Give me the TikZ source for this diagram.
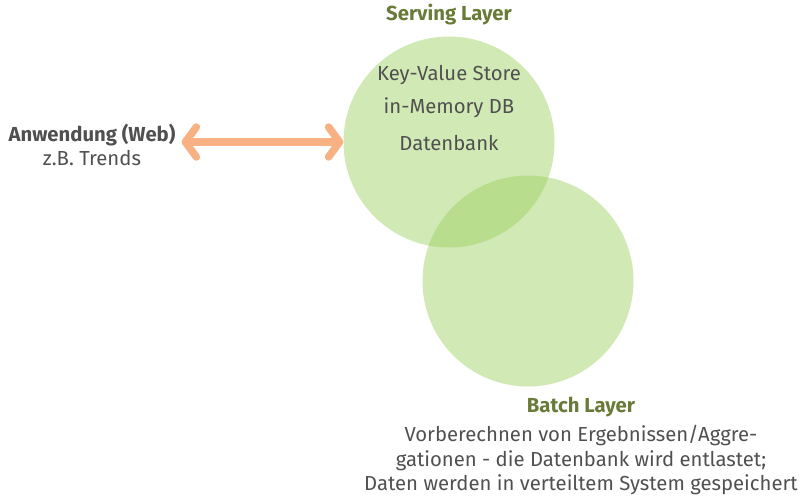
\documentclass[tikz,border=0pt]{standalone}
\usepackage{fontspec}
\setmainfont{Fira Sans}
\usetikzlibrary{arrows.meta}
\definecolor{layergreen}{RGB}{154,206,90}
\definecolor{titlegreen}{RGB}{106,122,56}
\definecolor{textgray}{RGB}{80,80,80}
\definecolor{arroworange}{RGB}{247,177,130}
\begin{document}
\begin{tikzpicture}[x=1pt, y=-1pt]
\tikzstyle{layer} = [circle, fill=layergreen, fill opacity=0.45, minimum size=211pt, inner sep=0pt]
\tikzstyle{title} = [font=\fontsize{20.3}{24}\selectfont\bfseries, text=titlegreen, inner sep=1pt]
\tikzstyle{desc} = [font=\fontsize{20.3}{24.5}\selectfont, text=textgray, align=center, inner sep=1pt]
\tikzstyle{biedge} = [line width=7.5pt, draw=arroworange, {Straight Barb[length=11pt, width=30pt, round]}-{Straight Barb[length=11pt, width=30pt, round]}]
\useasboundingbox (0,0) rectangle (806,496);

%layers
\foreach \name/\x/\y in {serving/449/142, batch/528/281}
	\node[layer] (\name) at (\x, \y) {};

\node[title] (serving_title) at (449, 15) {Serving Layer};
\node[title] (batch_title) at (581, 407) {Batch Layer};

%serving layer contents
\foreach \name/\y/\txt in {kv/75/Key-Value Store, mem/108/in-Memory DB, db/143/Datenbank}
	\node[desc] (\name) at (449, \y) {\txt};

\node[desc] (batch_text) at (581, 460) {Vorberechnen von Ergebnissen/Aggre-\\gationen - die Datenbank wird entlastet;\\Daten werden in verteiltem System gespeichert};

%application
\node[desc] (app) at (92, 145) {\textbf{Anwendung (Web)}\\z.B. Trends};

\coordinate (app_end) at ([xshift=5pt]app.east |- serving.west);
\draw[biedge] (app_end) -- (serving.west);
\end{tikzpicture}
\end{document}
